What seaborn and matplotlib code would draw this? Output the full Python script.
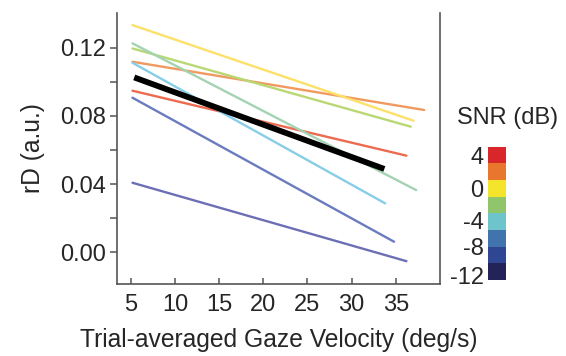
import numpy as np
import pandas as pd
import matplotlib
matplotlib.use("Agg")
import matplotlib.pyplot as plt
import seaborn as sns
from matplotlib.colors import ListedColormap
from matplotlib.ticker import FixedLocator, FormatStrFormatter

# Per-SNR regression lines: rD vs. trial-averaged gaze velocity
snr_levels = [4, 2, 0, -2, -4, -6, -8, -10]
line_colors = ["#ec6b50", "#f09a5f", "#fde06a", "#b9d873", "#a3d3b2",
               "#88cde8", "#6b7bbf", "#6c6fb6"]
x_start = [5.2, 5.2, 5.2, 5.2, 5.2, 5.2, 5.2, 5.2]
x_end = [36.2, 38.2, 37.0, 36.7, 37.3, 33.8, 34.8, 36.2]
rd_start = [0.0948, 0.1118, 0.1333, 0.1196, 0.1226, 0.1112, 0.0907, 0.0408]
rd_end = [0.0567, 0.0835, 0.0772, 0.0737, 0.0365, 0.0287, 0.0062, -0.0052]

# Grand-average fit
mean_x = [5.4, 33.7]
mean_rd = [0.1026, 0.0489]

# Discrete SNR colour key (top to bottom)
key_colors = ["#d8262b", "#e8772d", "#f5e42c", "#91c56c", "#6dc5cb",
              "#4173ad", "#2f4692", "#232358"]
key_ticklabels = ["4", "0", "-4", "-8", "-12"]
key_tickpos = [0.5, 2.5, 4.4, 6.0, 7.7]

x_ticks = [5, 10, 15, 20, 25, 30, 35]
y_ticks = [0.00, 0.04, 0.08, 0.12]
y_minor = [0.02, 0.06, 0.10]

sns.set_theme(style="ticks")
plt.rcParams["font.family"] = ["Liberation Sans", "DejaVu Sans"]

rows = []
for s, x0, x1, y0, y1 in zip(snr_levels, x_start, x_end, rd_start, rd_end):
    rows.append({"snr": s, "x": x0, "rd": y0})
    rows.append({"snr": s, "x": x1, "rd": y1})
df = pd.DataFrame(rows)

fig = plt.figure(figsize=(5.66, 3.56), dpi=100)
ax = fig.add_axes([117 / 566, 72 / 356, 323 / 566, 271 / 356])

sns.lineplot(data=df, x="x", y="rd", hue="snr", hue_order=snr_levels,
             palette=dict(zip(snr_levels, line_colors)), estimator=None,
             sort=False, legend=False, lw=1.7, ax=ax)
sns.lineplot(x=mean_x, y=mean_rd, color="black", lw=4.2, ax=ax,
             solid_capstyle="butt")

ax.set_xlim(3.45, 40)
ax.set_ylim(-0.0186, 0.1404)
ax.set_xticks(x_ticks)
ax.set_yticks(y_ticks)
ax.yaxis.set_minor_locator(FixedLocator(y_minor))
ax.yaxis.set_major_formatter(FormatStrFormatter("%.2f"))

spine_col = "#555555"
for side in ["left", "bottom", "right"]:
    ax.spines[side].set_color(spine_col)
    ax.spines[side].set_linewidth(1.2)
ax.spines["top"].set_visible(False)

txt_col = "#262626"
ax.tick_params(axis="x", direction="in", length=4, width=1.1, color=spine_col,
               labelsize=17, pad=7, labelcolor=txt_col)
ax.tick_params(axis="y", which="both", direction="out", length=5, width=1.1,
               color=spine_col, labelsize=17, pad=3, labelcolor=txt_col)

ax.set_xlabel("Trial-averaged Gaze Velocity (deg/s)", fontsize=17.7,
              color=txt_col, labelpad=9)
ax.set_ylabel("rD (a.u.)", fontsize=17.7, color=txt_col, labelpad=11)

# Colour key
cax = fig.add_axes([487.7 / 566, 76 / 356, 18.3 / 566, 133.3 / 356])
key_df = pd.DataFrame({"snr": np.arange(len(key_colors))})
sns.heatmap(key_df, cmap=ListedColormap(key_colors), vmin=-0.5,
            vmax=len(key_colors) - 0.5, cbar=False, ax=cax,
            xticklabels=False, yticklabels=False)
cax.set_yticks(key_tickpos)
cax.set_yticklabels(key_ticklabels, rotation=0)
cax.tick_params(axis="y", length=0, labelsize=17, pad=3, labelcolor=txt_col)
cax.set_xticks([])
cax.set_ylabel("")

fig.text(508 / 566, 1 - 118 / 356, "SNR (dB)", ha="center", va="center",
         fontsize=17, color=txt_col)

fig.savefig("out.png", dpi=100)
